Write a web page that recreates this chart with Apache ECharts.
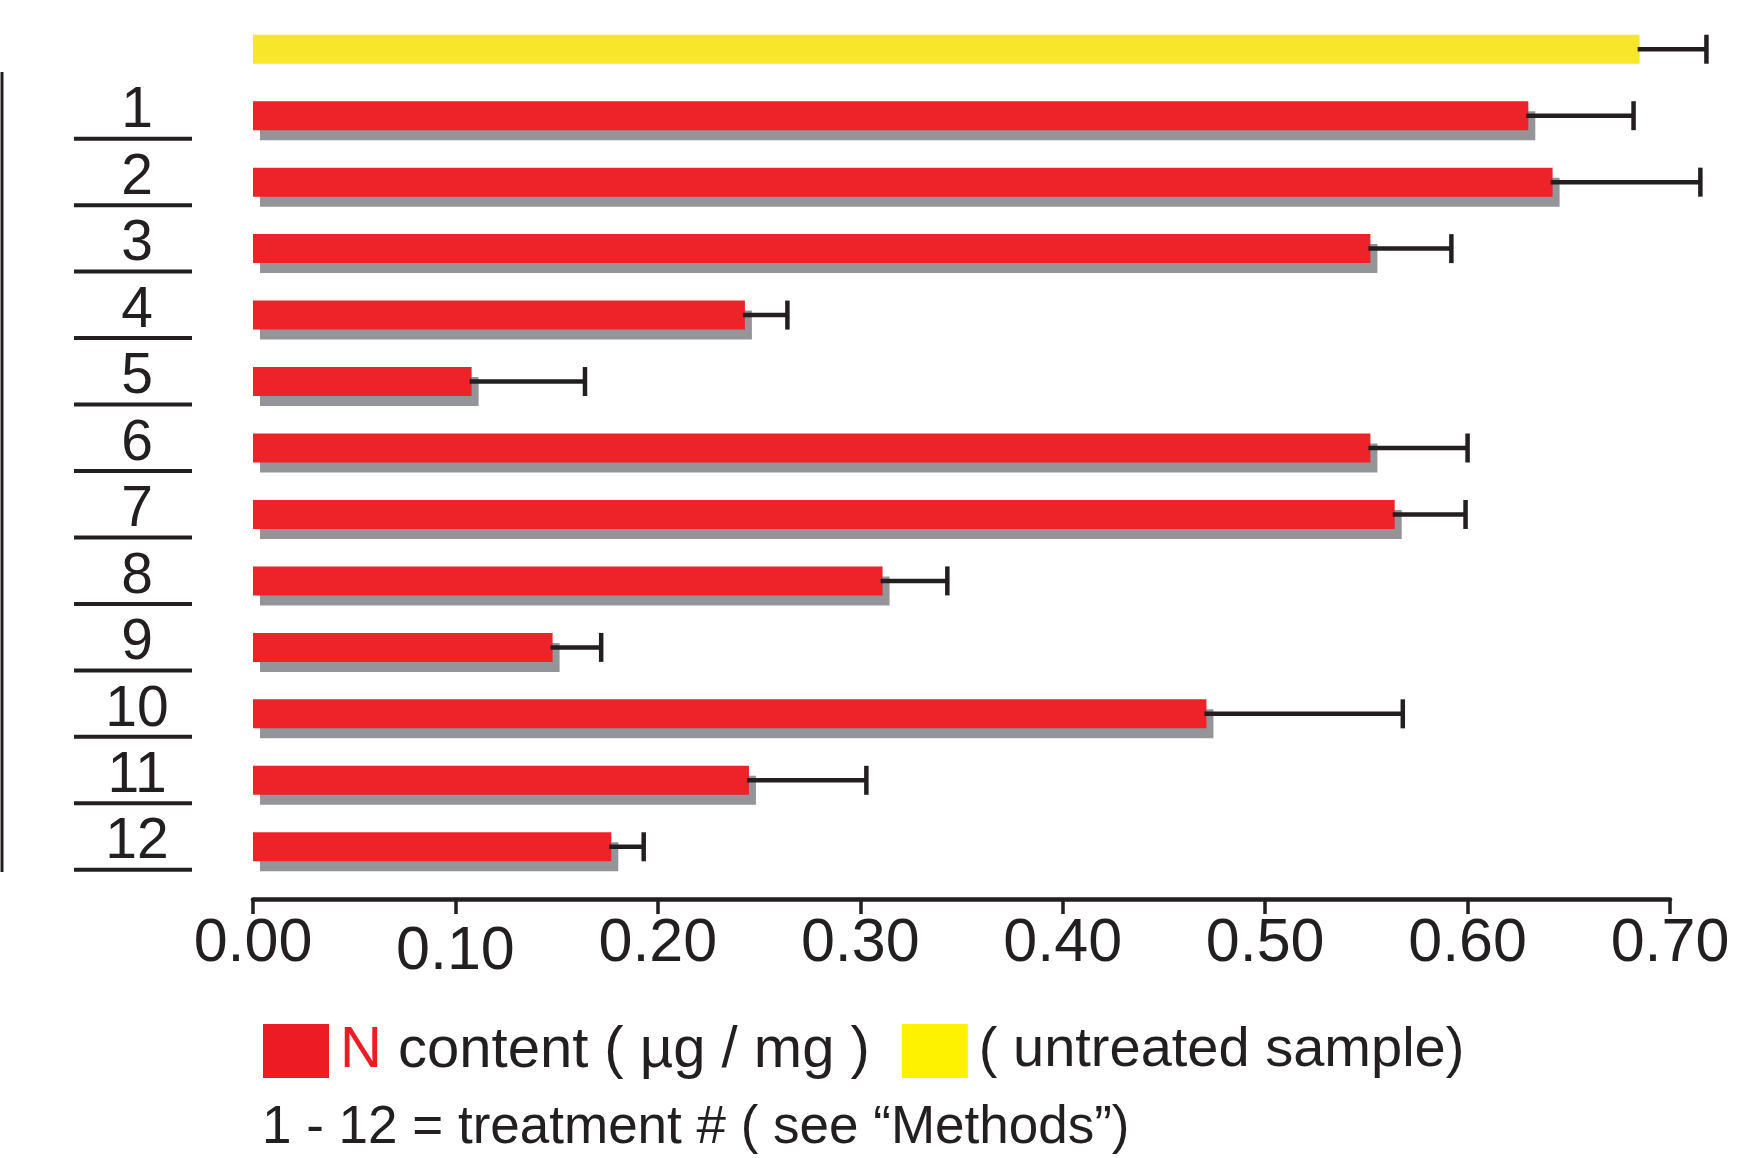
<!DOCTYPE html>
<html><head><meta charset="utf-8">
<script src="https://cdn.jsdelivr.net/npm/echarts@6/dist/echarts.min.js"></script>
<style>html,body{margin:0;padding:0;background:#fff}#c{width:1742px;height:1158px}</style>
</head><body><div id="c"></div>
<script>
const categories = ['untreated','1','2','3','4','5','6','7','8','9','10','11','12'];
const untreatedValue = [0.685];
const untreatedError = [0.033];
const nContent = [0.630,0.642,0.552,0.243,0.108,0.552,0.564,0.311,0.148,0.471,0.245,0.177];
const nError   = [0.052,0.073,0.040,0.021,0.056,0.048,0.035,0.032,0.024,0.097,0.058,0.016];
const xTickValues = [0.00,0.10,0.20,0.30,0.40,0.50,0.60,0.70];
const legendNames = ['N content ( µg / mg )','( untreated sample)'];
const footnote = '1 - 12 = treatment # ( see “Methods”)';

const FONT = '"Liberation Sans", Arial, Helvetica, sans-serif';
const INK = '#231f20';
const RED = '#ee2229';
const YELLOW = '#f7e629';

const yellowData = categories.map((c,i)=> i===0 ? untreatedValue[0] : '-');
const redData = categories.map((c,i)=> i===0 ? '-' : nContent[i-1]);
const errData = [[0, untreatedValue[0], untreatedError[0]]].concat(
  nContent.map((v,i)=>[i+1, v, nError[i]]));

const chart = echarts.init(document.getElementById('c'), null, {renderer:'canvas'});
chart.setOption({
  animation:false,
  backgroundColor:'#fff',
  textStyle:{fontFamily:FONT},
  grid:{left:253, right:72, top:16, height:864, containLabel:false},
  xAxis:{
    type:'value', min:0, max:0.7, interval:0.1, offset:19,
    axisLine:{show:true, lineStyle:{color:INK, width:4.5}},
    axisTick:{show:true, inside:false, length:15, lineStyle:{color:INK, width:3.5}},
    splitLine:{show:false},
    axisLabel:{
      margin:15, color:INK, fontSize:61, fontFamily:FONT,
      formatter:(v)=> Math.abs(v-0.1)<1e-9 ? '{low|'+v.toFixed(2)+'}' : v.toFixed(2),
      rich:{low:{fontSize:61, color:INK, fontFamily:FONT, padding:[8,0,0,0]}}
    }
  },
  yAxis:{
    type:'category', inverse:true, data:categories,
    axisLine:{show:false}, axisTick:{show:false}, splitLine:{show:false},
    axisLabel:{
      interval:0, hideOverlap:false,
      margin:61, align:'right', padding:[0,0,4,0],
      formatter:(v)=> v==='untreated' ? '' : '{n|'+v+'}\n{u|}',
      rich:{
        n:{fontSize:57, lineHeight:50, color:INK, fontFamily:FONT, align:'center', padding:[0,0,0,8]},
        u:{width:118, height:4, backgroundColor:INK}
      }
    }
  },
  legend:{
    left:263, top:1022, orient:'horizontal', icon:'rect',
    itemWidth:66, itemHeight:54, itemGap:32, padding:0,
    itemStyle:{shadowColor:'transparent', shadowBlur:0, shadowOffsetX:0, shadowOffsetY:0, borderWidth:0},
    data:[
      {name:legendNames[0], itemStyle:{color:'#ed1c24'}},
      {name:legendNames[1], itemStyle:{color:'#fff200'}}
    ],
    formatter:(name)=> name===legendNames[0] ? '{r|N}{k|'+name.slice(1)+'}' : '{k2|'+name+'}',
    textStyle:{fontSize:57, color:INK, fontFamily:FONT, padding:[0,0,0,6],
      rich:{
        r:{fontSize:58, color:'#ed1c24', fontFamily:FONT},
        k:{fontSize:58, color:INK, fontFamily:FONT},
        k2:{fontSize:56, color:INK, fontFamily:FONT}
      }}
  },
  title:{
    text:footnote, left:262, top:1102, padding:0,
    textStyle:{fontSize:53, fontWeight:'normal', color:INK, fontFamily:FONT}
  },
  graphic:[
    {type:'line', shape:{x1:2, y1:72, x2:2, y2:872}, style:{stroke:INK, lineWidth:3}, silent:true}
  ],
  series:[
    {
      name:legendNames[1], type:'bar', data:yellowData, barWidth:29, barGap:'-100%',
      itemStyle:{color:YELLOW}
    },
    {
      name:legendNames[0], type:'bar', data:redData, barWidth:29, barGap:'-100%',
      itemStyle:{color:RED, shadowColor:'#939598', shadowBlur:0, shadowOffsetX:7, shadowOffsetY:10}
    },
    {
      name:'error', type:'custom', data:errData, encode:{x:1, y:0}, clip:false, z:5,
      renderItem:(params, api)=>{
        const c = api.value(0), v = api.value(1), e = api.value(2);
        const p0 = api.coord([v, c]);
        const p1 = api.coord([v+e, c]);
        const h = 14.5;
        const st = {stroke:INK, lineWidth:4.5};
        return {type:'group', children:[
          {type:'line', shape:{x1:p0[0]-2, y1:p0[1], x2:p1[0], y2:p1[1]}, style:st},
          {type:'line', shape:{x1:p1[0], y1:p1[1]-h, x2:p1[0], y2:p1[1]+h}, style:st}
        ]};
      }
    }
  ]
});
</script></body></html>
